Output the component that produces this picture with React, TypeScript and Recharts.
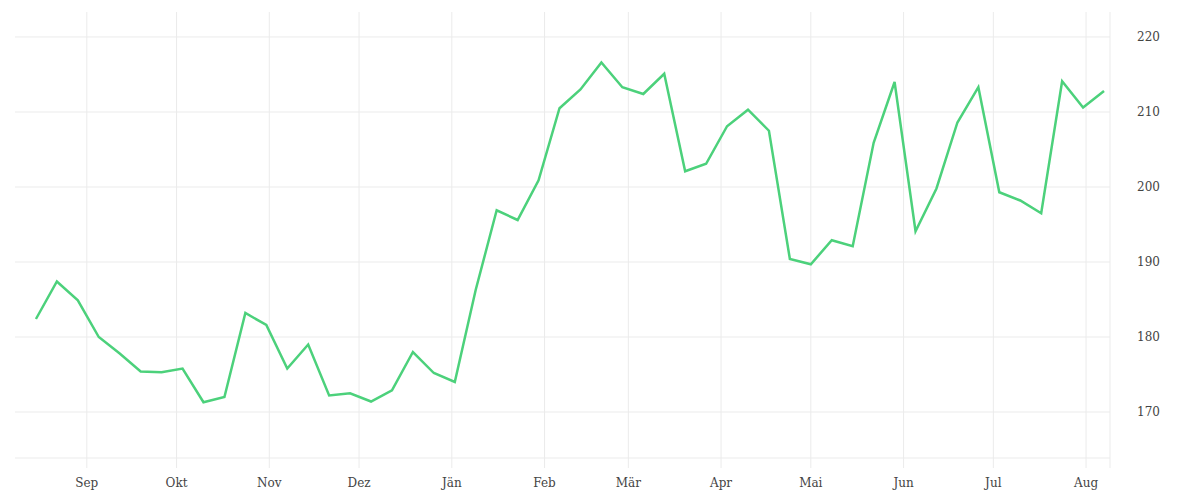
import { LineChart, Line, XAxis, YAxis, CartesianGrid } from "recharts";

// weekly readings, mid Aug 2018 to early Aug 2019
const weeks = [
  "2018-08-15", "2018-08-22", "2018-08-29", "2018-09-05", "2018-09-12",
  "2018-09-19", "2018-09-26", "2018-10-03", "2018-10-10", "2018-10-17",
  "2018-10-24", "2018-10-31", "2018-11-07", "2018-11-14", "2018-11-21",
  "2018-11-28", "2018-12-05", "2018-12-12", "2018-12-19", "2018-12-26",
  "2019-01-02", "2019-01-09", "2019-01-16", "2019-01-23", "2019-01-30",
  "2019-02-06", "2019-02-13", "2019-02-20", "2019-02-27", "2019-03-06",
  "2019-03-13", "2019-03-20", "2019-03-27", "2019-04-03", "2019-04-10",
  "2019-04-17", "2019-04-24", "2019-05-01", "2019-05-08", "2019-05-15",
  "2019-05-22", "2019-05-29", "2019-06-05", "2019-06-12", "2019-06-19",
  "2019-06-26", "2019-07-03", "2019-07-10", "2019-07-17", "2019-07-24",
  "2019-07-31", "2019-08-07",
];

const values = [
  182.4, 187.4, 184.9, 180.0, 177.8, 175.4, 175.3, 175.8, 171.3, 172.0,
  183.2, 181.6, 175.8, 179.0, 172.2, 172.5, 171.4, 172.9, 178.0, 175.2,
  174.0, 186.3, 196.9, 195.6, 200.9, 210.5, 213.0, 216.6, 213.3, 212.4,
  215.1, 202.1, 203.1, 208.1, 210.3, 207.5, 190.4, 189.7, 192.9, 192.1,
  205.9, 214.0, 194.1, 199.8, 208.6, 213.3, 199.3, 198.2, 196.5, 214.1,
  210.6, 212.8,
];

const monthStarts = [
  "2018-09-01", "2018-10-01", "2018-11-01", "2018-12-01", "2019-01-01",
  "2019-02-01", "2019-03-01", "2019-04-01", "2019-05-01", "2019-06-01",
  "2019-07-01", "2019-08-01",
];
const monthLabels = [
  "Sep", "Okt", "Nov", "Dez", "Jän", "Feb", "Mär", "Apr", "Mai", "Jun",
  "Jul", "Aug",
];

const yTicks = [170, 180, 190, 200, 210, 220];

const xStart = Date.parse("2018-08-08");
const xEnd = Date.parse("2019-08-09");

const data = weeks.map((d, i) => ({ t: Date.parse(d), value: values[i] }));
// the last tick only draws the right-hand edge line, no label
const xTicks = [...monthStarts.map((d) => Date.parse(d)), xEnd];

const gridColor = "#ebebeb";
const tickStyle = { fill: "#444", fontSize: 12, fontFamily: "DejaVu Serif" };

export default function App() {
  return (
    <div style={{ position: "absolute", left: 0, top: 0, background: "#fff" }}>
      <LineChart
        width={1200}
        height={500}
        data={data}
        margin={{ top: 12, right: 20, left: 15, bottom: 12 }}
      >
        <CartesianGrid stroke={gridColor} syncWithTicks />
        <XAxis
          dataKey="t"
          type="number"
          scale="time"
          domain={[xStart, xEnd]}
          ticks={xTicks}
          tickFormatter={(v: number) => {
            const i = xTicks.indexOf(v);
            return i >= 0 && i < monthLabels.length ? monthLabels[i] : "";
          }}
          height={30}
          tickSize={10}
          tickMargin={10}
          stroke={gridColor}
          tick={tickStyle}
          interval={0}
        />
        <YAxis
          orientation="right"
          type="number"
          domain={[163.87, 223.33]}
          ticks={yTicks}
          allowDataOverflow
          axisLine={false}
          tickLine={false}
          tickSize={0}
          tickMargin={27}
          width={70}
          tick={tickStyle}
        />
        <Line
          type="linear"
          dataKey="value"
          stroke="#4cd17b"
          strokeWidth={2.5}
          dot={false}
          isAnimationActive={false}
        />
      </LineChart>
    </div>
  );
}
